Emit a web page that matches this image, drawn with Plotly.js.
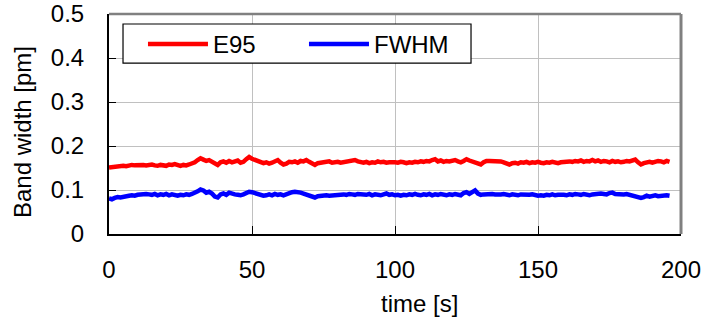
<!DOCTYPE html>
<html>
<head>
<meta charset="utf-8">
<script src="https://cdn.plot.ly/plotly-3.0.1.min.js"></script>
<style>html,body{margin:0;padding:0;background:#fff;}#chart{width:710px;height:322px;}</style>
</head>
<body>
<div id="chart"></div>
<script>
// E95 band width [pm], sampled every 1 s from t = 0 s
const e95 = [
0.151,0.152,0.153,0.152,0.154,0.155,0.154,0.156,0.157,0.156,
0.157,0.158,0.157,0.156,0.157,0.158,0.156,0.155,0.157,0.156,
0.155,0.158,0.157,0.159,0.156,0.155,0.157,0.156,0.158,0.160,
0.163,0.168,0.172,0.169,0.166,0.168,0.165,0.160,0.157,0.163,
0.165,0.162,0.166,0.163,0.164,0.167,0.162,0.164,0.170,0.175,
0.171,0.168,0.165,0.163,0.161,0.163,0.160,0.162,0.165,0.168,
0.162,0.158,0.160,0.164,0.163,0.165,0.162,0.166,0.165,0.168,
0.164,0.159,0.157,0.161,0.162,0.164,0.163,0.165,0.162,0.163,
0.164,0.162,0.163,0.165,0.164,0.166,0.168,0.165,0.163,0.162,
0.164,0.161,0.163,0.162,0.165,0.163,0.164,0.162,0.163,0.164,
0.163,0.162,0.164,0.163,0.161,0.163,0.162,0.164,0.163,0.165,
0.164,0.166,0.165,0.168,0.170,0.165,0.167,0.164,0.166,0.165,
0.167,0.168,0.165,0.163,0.166,0.170,0.167,0.165,0.164,0.161,
0.158,0.163,0.166,0.166,0.166,0.166,0.167,0.165,0.163,0.160,
0.158,0.161,0.162,0.160,0.163,0.162,0.164,0.161,0.163,0.162,
0.164,0.162,0.161,0.163,0.162,0.164,0.162,0.161,0.163,0.164,
0.163,0.165,0.164,0.166,0.165,0.167,0.164,0.166,0.165,0.168,
0.165,0.167,0.164,0.166,0.165,0.163,0.166,0.164,0.165,0.163,
0.164,0.166,0.165,0.168,0.169,0.163,0.158,0.161,0.163,0.164,
0.162,0.164,0.166,0.165,0.163,0.166,0.164];

// FWHM band width [pm], sampled every 1 s from t = 0 s
const fwhm = [
0.081,0.079,0.082,0.084,0.083,0.085,0.086,0.087,0.088,0.087,
0.089,0.090,0.089,0.091,0.090,0.089,0.091,0.088,0.090,0.089,
0.091,0.088,0.090,0.089,0.087,0.089,0.088,0.090,0.089,0.091,
0.093,0.097,0.101,0.099,0.094,0.096,0.092,0.085,0.083,0.090,
0.092,0.089,0.094,0.091,0.090,0.089,0.088,0.090,0.094,0.096,
0.095,0.093,0.091,0.089,0.087,0.088,0.090,0.088,0.091,0.089,
0.090,0.088,0.091,0.093,0.095,0.096,0.096,0.094,0.092,0.090,
0.088,0.084,0.083,0.086,0.087,0.086,0.088,0.087,0.088,0.089,
0.088,0.089,0.090,0.089,0.091,0.090,0.089,0.091,0.090,0.088,
0.089,0.091,0.088,0.090,0.089,0.088,0.090,0.092,0.089,0.090,
0.088,0.089,0.087,0.089,0.088,0.090,0.089,0.091,0.089,0.088,
0.090,0.089,0.091,0.088,0.090,0.089,0.091,0.090,0.088,0.090,
0.089,0.091,0.090,0.088,0.093,0.095,0.091,0.096,0.099,0.092,
0.089,0.090,0.091,0.090,0.091,0.090,0.089,0.090,0.091,0.089,
0.088,0.090,0.089,0.088,0.090,0.089,0.088,0.089,0.090,0.088,
0.087,0.088,0.087,0.089,0.088,0.090,0.088,0.089,0.090,0.089,
0.088,0.090,0.089,0.091,0.090,0.089,0.091,0.090,0.088,0.090,
0.091,0.090,0.092,0.091,0.090,0.093,0.094,0.091,0.090,0.089,
0.090,0.091,0.089,0.088,0.087,0.085,0.082,0.084,0.087,0.085,
0.087,0.088,0.086,0.087,0.089,0.088,0.087];

const seriesNames = ["E95", "FWHM"];
const xTicks = [0, 50, 100, 150, 200];
const yTicks = [0, 0.1, 0.2, 0.3, 0.4, 0.5];
const yTickText = ["0", "0.1", "0.2", "0.3", "0.4", "0.5"];
const xTitle = "time [s]";
const yTitle = "Band width [pm]";
const sampleStep = 1; // seconds between samples
const time = e95.map((_, i) => i * sampleStep);

const FONT = '"Liberation Sans", Arial, sans-serif';

const traces = [
  {x: time, y: e95, name: seriesNames[0], type: "scatter", mode: "lines",
   line: {color: "#ff0000", width: 4.5}},
  {x: time, y: fwhm, name: seriesNames[1], type: "scatter", mode: "lines",
   line: {color: "#0000ff", width: 4.5}}
];

const layout = {
  width: 710, height: 322,
  margin: {l: 109, r: 29, t: 14, b: 88, pad: 0},
  paper_bgcolor: "#ffffff", plot_bgcolor: "#ffffff",
  font: {family: FONT, size: 24, color: "#000"},
  showlegend: true,
  legend: {
    x: 0.0594, y: 0.9636, xanchor: "left", yanchor: "top",
    orientation: "h", bgcolor: "rgba(0,0,0,0)", borderwidth: 0,
    font: {family: FONT, size: 24, color: "#000"},
    itemwidth: 60, entrywidth: 86, tracegroupgap: 0
  },
  xaxis: {
    range: [0, 200], tickvals: xTicks, ticktext: xTicks.map(String),
    ticks: "inside", ticklen: 8, tickwidth: 1, tickcolor: "#000",
    showgrid: true, gridcolor: "#c0c0c0", gridwidth: 1,
    showline: true, linecolor: "#000", linewidth: 2,
    zeroline: false, ticklabelstandoff: 13,
    tickfont: {family: FONT, size: 24}
  },
  yaxis: {
    range: [0, 0.5], tickvals: yTicks, ticktext: yTickText,
    ticks: "inside", ticklen: 7, tickwidth: 1, tickcolor: "#000",
    showgrid: true, gridcolor: "#c0c0c0", gridwidth: 1,
    showline: true, linecolor: "#000", linewidth: 2,
    zeroline: false, ticklabelstandoff: 18,
    tickfont: {family: FONT, size: 24}
  },
  annotations: [
    {text: xTitle, xref: "paper", yref: "paper", x: 0.542, y: -0.318,
     xanchor: "center", yanchor: "middle", showarrow: false,
     font: {family: FONT, size: 24, color: "#000"}},
    {text: yTitle, xref: "paper", yref: "paper", x: -0.152, y: 0.4636,
     xanchor: "center", yanchor: "middle", showarrow: false, textangle: -90,
     font: {family: FONT, size: 24, color: "#000"}}
  ],
  shapes: [
    {type: "line", xref: "paper", yref: "paper", x0: 0, x1: 1, y0: 1, y1: 1,
     line: {color: "#808080", width: 2.5}},
    {type: "line", xref: "paper", yref: "paper", x0: 1, x1: 1, y0: 0, y1: 1,
     line: {color: "#808080", width: 3}},
    {type: "rect", xref: "paper", yref: "paper", x0: 0.0245, x1: 0.6329, y0: 0.777, y1: 0.9545,
     fillcolor: "#ffffff", line: {color: "#000", width: 1.2}, layer: "above"}
  ]
};

Plotly.newPlot("chart", traces, layout, {displayModeBar: false, staticPlot: true});
</script>
</body>
</html>
